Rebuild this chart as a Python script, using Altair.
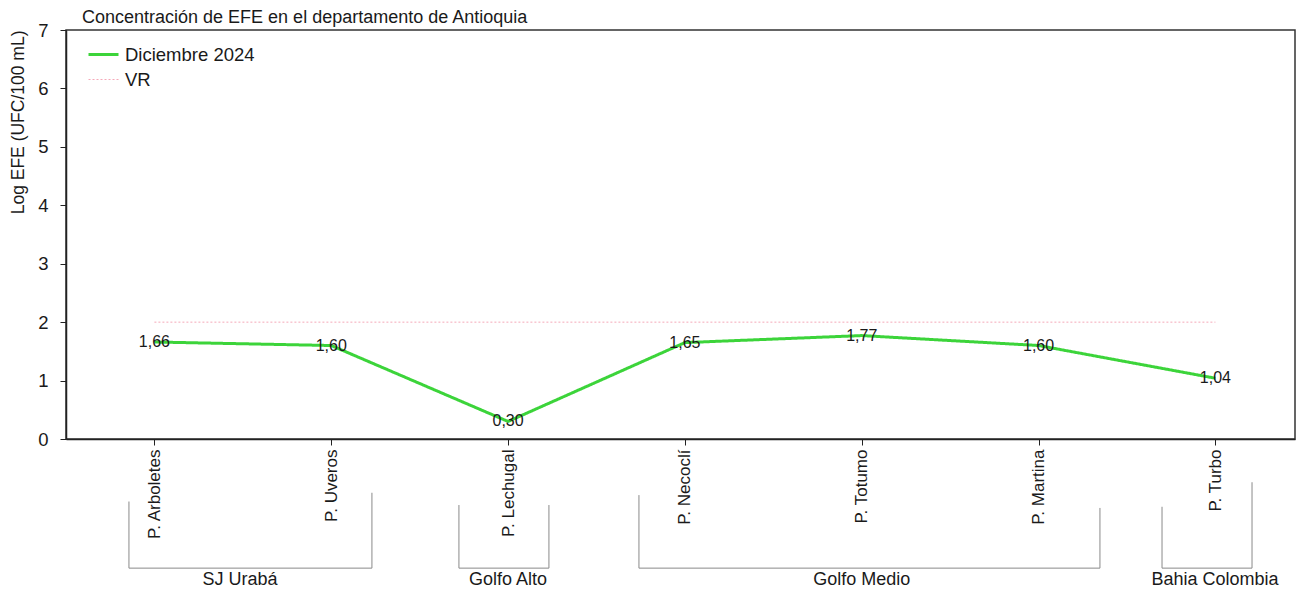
import json
import altair as alt
import pandas as pd

FONT = "Liberation Sans"

chart_title = "Concentración de EFE en el departamento de Antioquia"
y_title = "Log EFE (UFC/100 mL)"
stations = ["P. Arboletes", "P. Uveros", "P. Lechugal", "P. Necoclí",
            "P. Totumo", "P. Martina", "P. Turbo"]
values = [1.66, 1.60, 0.30, 1.65, 1.77, 1.60, 1.04]
series_name = "Diciembre 2024"
vr_name = "VR"
vr_value = 2.0

# groups of stations (brackets under the axis), in station-index units
groups = ["SJ Urabá", "Golfo Alto", "Golfo Medio", "Bahia Colombia"]
group_start = [-0.144, 1.722, 2.740, 5.698]
group_end = [1.230, 2.231, 5.347, 6.207]
group_label_x = [0.484, 2.0, 4.0, 5.998]
group_top_left = [-1.07, -1.13, -0.96, -1.16]
group_top_right = [-0.92, -1.13, -1.18, -0.74]
group_bottom = -2.21
group_label_y = -2.42

idx = list(range(len(stations)))
df_main = pd.DataFrame({"idx": idx, "station": stations, "value": values,
                        "series": series_name})
df_vr = pd.DataFrame({"idx": [idx[0], idx[-1]], "value": [vr_value, vr_value],
                      "series": vr_name})
df_lines = pd.concat([df_main, df_vr], ignore_index=True)

df_groups = pd.DataFrame({
    "group": groups, "start": group_start, "end": group_end,
    "lx": group_label_x, "top_l": group_top_left, "top_r": group_top_right,
    "bottom": group_bottom, "ly": group_label_y,
})

xscale = alt.Scale(domain=[-0.5, 6.45], nice=False, zero=False)
yscale = alt.Scale(domain=[0, 7], nice=False, zero=False)

label_expr = json.dumps(stations, ensure_ascii=False) + "[datum.value]"

x_axis = alt.Axis(values=idx, labelExpr=label_expr, title=None, grid=False,
                  labelAngle=270, labelAlign="right", labelBaseline="middle",
                  labelFontSize=17, labelFont=FONT, labelColor="#1a1a1a",
                  labelPadding=4, tickSize=6, tickColor="#222",
                  domainColor="#222", domainWidth=1.5, labelOverlap=False)
y_axis = alt.Axis(values=list(range(8)), format="d", title=y_title, grid=False,
                  labelFontSize=18.5, labelFont=FONT, labelColor="#1a1a1a",
                  labelPadding=12, tickSize=6, tickColor="#222",
                  domainColor="#222", domainWidth=1.5,
                  titleFont=FONT, titleFontSize=17.5, titleFontWeight="normal",
                  titleColor="#1a1a1a", titleAngle=270, titleAlign="right",
                  titleBaseline="middle", titleX=-48, titleY=0)

dom = [series_name, vr_name]
lines = alt.Chart(df_lines).mark_line().encode(
    x=alt.X("idx:Q", scale=xscale, axis=x_axis),
    y=alt.Y("value:Q", scale=yscale, axis=y_axis),
    color=alt.Color("series:N", scale=alt.Scale(domain=dom, range=["#3cd43a", "#f5a9b8"]),
                    legend=alt.Legend(title=None, orient="none", legendX=21, legendY=8,
                                      labelFontSize=18.5, labelFont=FONT,
                                      labelColor="#1a1a1a", symbolSize=900,
                                      labelOffset=5, rowPadding=0)),
    strokeDash=alt.StrokeDash("series:N", scale=alt.Scale(domain=dom, range=[[1, 0], [2, 2]])),
    strokeWidth=alt.StrokeWidth("series:N", scale=alt.Scale(domain=dom, range=[3, 1])),
    detail="series:N",
)

labels = alt.Chart(df_main).transform_calculate(
    lab="replace(format(datum.value, '.2f'), '.', ',')"
).mark_text(fontSize=16, font=FONT, color="#1a1a1a").encode(
    x=alt.X("idx:Q", scale=xscale),
    y=alt.Y("value:Q", scale=yscale),
    text="lab:N",
)

gbase = alt.Chart(df_groups)
bracket_color = "#8a8a8a"
hrule = gbase.mark_rule(color=bracket_color, strokeWidth=1).encode(
    x=alt.X("start:Q", scale=xscale), x2="end:Q",
    y=alt.Y("bottom:Q", scale=yscale))
lrule = gbase.mark_rule(color=bracket_color, strokeWidth=1).encode(
    x=alt.X("start:Q", scale=xscale),
    y=alt.Y("top_l:Q", scale=yscale), y2="bottom:Q")
rrule = gbase.mark_rule(color=bracket_color, strokeWidth=1).encode(
    x=alt.X("end:Q", scale=xscale),
    y=alt.Y("top_r:Q", scale=yscale), y2="bottom:Q")
gtext = gbase.mark_text(fontSize=18, font=FONT, color="#1a1a1a").encode(
    x=alt.X("lx:Q", scale=xscale),
    y=alt.Y("ly:Q", scale=yscale),
    text="group:N")

chart = alt.layer(lines, labels, hrule, lrule, rrule, gtext).properties(
    width=1229, height=409,
    autosize=alt.AutoSizeParams(type="none"),
    padding={"left": 58, "top": 22, "right": 1, "bottom": 153},
    title=alt.TitleParams(chart_title, anchor="start", frame="group", fontSize=18,
                          fontWeight="normal", font=FONT, color="#1a1a1a",
                          dx=16, dy=12, offset=6),
).configure_view(stroke="#333", strokeWidth=1.5)

chart.save("out.html", embed_options={"renderer": "svg", "actions": False})
